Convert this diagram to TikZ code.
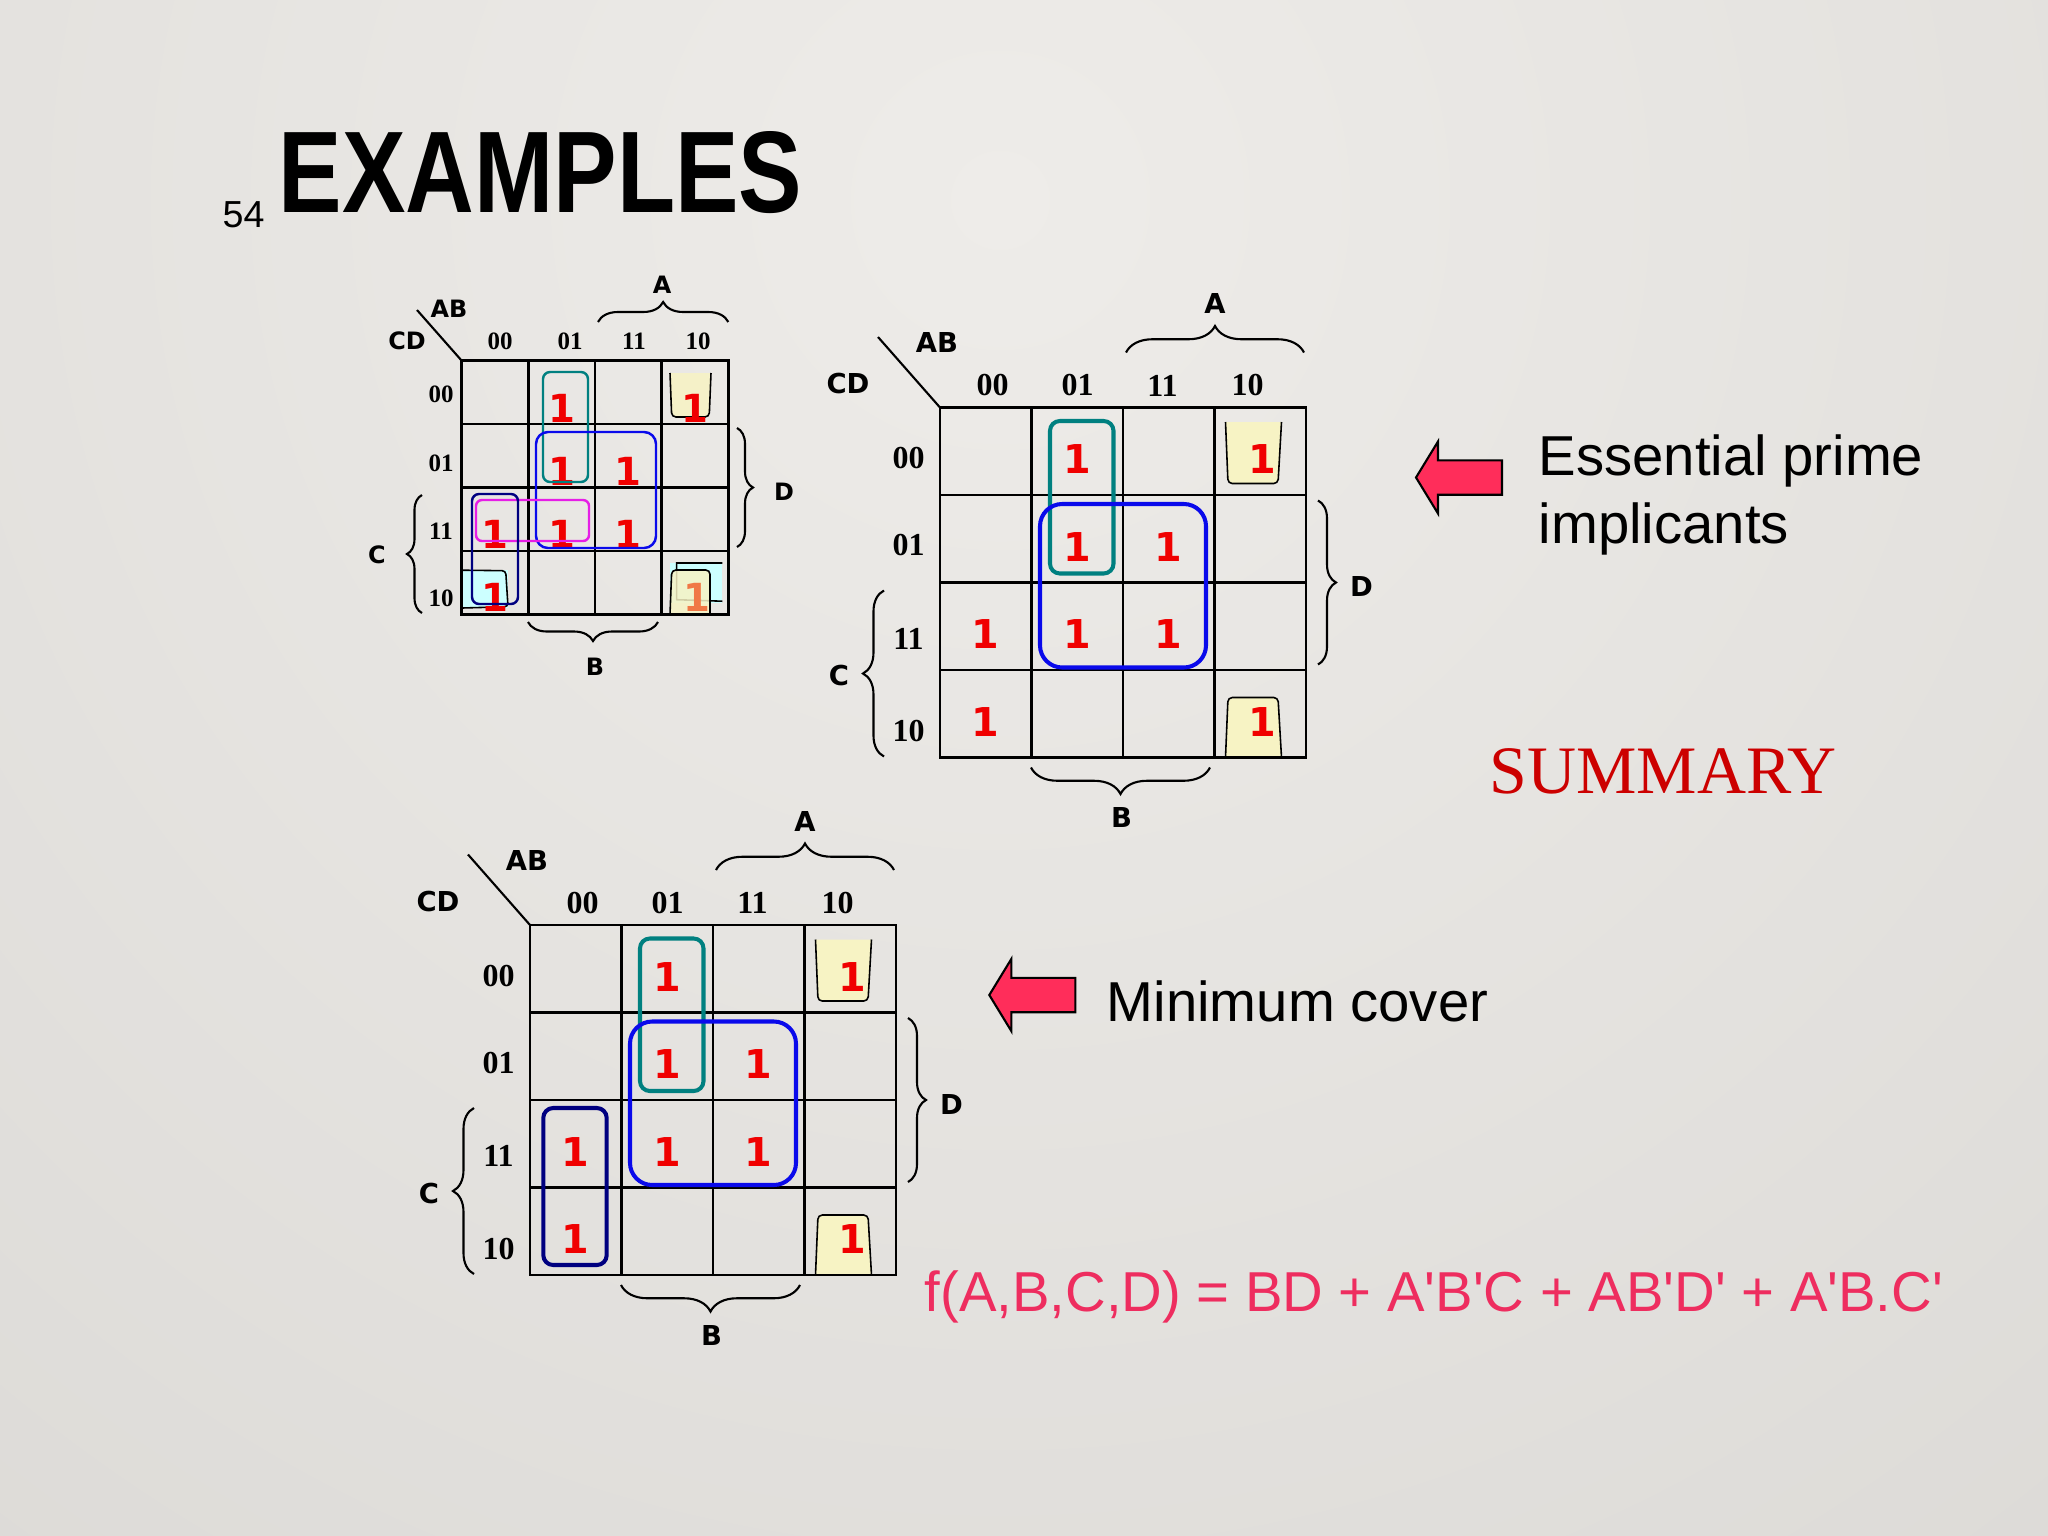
\documentclass[tikz,border=0pt]{standalone}
\usepackage{fontspec}
\setmainfont{Liberation Sans}
\newfontfamily\kfont{DejaVu Sans}
\newfontfamily\hfont{Liberation Serif}
\newfontfamily\tfont[FakeStretch=0.82]{Liberation Sans}
\newfontfamily\formfont[Ligatures=TeXOff]{Liberation Sans}
\usetikzlibrary{decorations.pathreplacing}

\definecolor{bgin}{RGB}{238,236,233}
\definecolor{bgout}{RGB}{200,198,194}
\definecolor{onered}{RGB}{240,0,0}
\definecolor{oneorange}{RGB}{240,120,70}
\definecolor{tealgrp}{RGB}{0,128,128}
\definecolor{bluegrp}{RGB}{10,10,235}
\definecolor{navygrp}{RGB}{0,0,128}
\definecolor{maggrp}{RGB}{230,30,230}
\definecolor{cupfill}{RGB}{247,243,196}
\definecolor{cyanfill}{RGB}{204,255,255}
\definecolor{arrowpink}{RGB}{255,45,90}
\definecolor{formulapink}{RGB}{238,45,95}
\definecolor{summaryred}{RGB}{204,0,0}

\tikzset{
  kgrid/.style={line width=0.7pt},
  kline/.style={line width=0.6pt},
  kbrace/.style={decorate, decoration={brace, amplitude=#1}, line width=0.6pt},
  cup/.style={fill=cupfill, draw=black, line width=0.45pt, rounded corners=1.2pt},
  patchline/.style={draw=black, line width=0.45pt},
  grpbig/.style={draw=#1, line width=1.15pt},
  grpsmall/.style={draw=#1, line width=0.7pt},
  lblbig/.style={font=\kfont\bfseries\fontsize{7.8}{9}\selectfont, inner sep=0pt},
  hdrbig/.style={font=\hfont\bfseries\fontsize{9.1}{11}\selectfont, inner sep=0pt},
  onebig/.style={font=\kfont\bfseries\fontsize{11.3}{13}\selectfont, text=onered, inner sep=0pt, anchor=base},
  lblsmall/.style={font=\kfont\bfseries\fontsize{6.8}{8}\selectfont, inner sep=0pt},
  hdrsmall/.style={font=\hfont\bfseries\fontsize{7.1}{8}\selectfont, inner sep=0pt},
  onesmall/.style={font=\kfont\bfseries\fontsize{11}{13}\selectfont, text=onered, inner sep=0pt, anchor=base},
  slidetext/.style={anchor=base west, inner sep=0pt, font=\fontsize{16}{19}\selectfont},
  arrowshape/.style={fill=arrowpink, draw=black, line width=0.6pt},
  pics/pinkarrow/.style={code={
    \draw[arrowshape] (0,0) -- (22,-36) -- (22,-17.2) -- (86,-17.2) -- (86,17.2) -- (22,17.2) -- (22,36) -- cycle;
  }},
}

% big K-map: #1 prefix, #2 top left corner, #3 extra groups
\newcommand{\kmapbig}[3]{%
\begin{scope}[shift={#2}]
  % wrap-around corner group
  \draw[cup] (285.5,14.5) -- (288,76) -- (338,76) -- (341.5,14.5);
  \draw[cup] (285.5,350) -- (288,290) -- (338,290) -- (341.5,350);
  % grid
  \foreach \i in {0,...,4} {
    \draw[kgrid] ({91.5*\i},0) -- ({91.5*\i},350);
    \draw[kgrid] (0,{87.5*\i}) -- (366,{87.5*\i});
  }
  \draw[kgrid] (0,0) rectangle (366,350);
  \foreach \c/\r in {1/0,1/1,2/1,0/2,1/2,2/2,0/3}
    \node[onebig] (#1-one\c\r) at ({45.75+91.5*\c},{66.25+87.5*\r}) {1};
  \node[onebig] (#1-one30) at (322.25,66.25) {1};
  \node[onebig] (#1-one33) at (322.25,328.75) {1};
  % groups
  \draw[grpbig=tealgrp, rounded corners=2.8pt] (110,13.5) rectangle (173.5,166);
  \draw[grpbig=bluegrp, rounded corners=6.3pt] (100,96.5) rectangle (266,260);
  #3
  % variable labels
  \coordinate (#1-corner) at (0,0);
  \coordinate (#1-slash) at (-62,-70.5);
  \draw[kline] (#1-slash) -- (#1-corner);
  \node[lblbig] (#1-AB) at (-3,-65) {AB};
  \node[lblbig] (#1-CD) at (-92,-23.5) {CD};
  \foreach \h/\x in {00/52.5, 01/137.5, 11/222.5, 10/307.5}
    \node[hdrbig] (#1-col\h) at (\x,-22) {\h};
  \foreach \h/\y in {00/51, 01/138, 11/231, 10/324}
    \node[hdrbig] (#1-row\h) at (-31.5,\y) {\h};
  \draw[kbrace=0.265cm] (186,-55) -- (364,-55);
  \node[lblbig] (#1-A) at (275,-104) {A};
  \draw[kbrace=0.265cm] (270,360) -- (91,360);
  \node[lblbig] (#1-B) at (181.5,410) {B};
  \draw[kbrace=0.21cm] (-56,349) -- (-56,183);
  \node[lblbig] (#1-C) at (-101,268.5) {C};
  \draw[kbrace=0.18cm] (378,93) -- (378,257);
  \node[lblbig] (#1-D) at (421.5,179) {D};
\end{scope}}

\begin{document}
\begin{tikzpicture}[x=0.01cm, y=-0.01cm]
% slide background
\useasboundingbox (0,0) rectangle (2048,1536);
\begin{scope}
  \clip (0,0) rectangle (2048,1536);
  \shade[inner color=bgin, outer color=bgout] (1000,200) circle (3800);
\end{scope}

% title
\node[anchor=base west, inner sep=0pt, font=\fontsize{10.7}{12}\selectfont] (slideno) at (222,227) {54};
\node[anchor=base west, inner sep=0pt, font=\tfont\bfseries\fontsize{33}{38}\selectfont] (title) at (278,212) {EXAMPLES};

% small K-map with all prime implicants
\begin{scope}[shift={(461.7,360.7)}]
  \fill[cyanfill] (0.5,209.5) rectangle (46.3,247.3);
  \draw[patchline, rounded corners=1pt] (0.5,209.5) -- (44,210) -- (46.3,246) -- (0.5,247.3);
  \fill[cyanfill] (208.3,202.3) rectangle (260.6,242.3);
  \draw[patchline] (260.6,202.3) -- (215,202.3) -- (215,239) -- (260.6,240.5);
  \draw[cup, fill opacity=0.85] (208.3,12.3) -- (210,56.3) -- (247.5,56.3) -- (249.3,12.3);
  \draw[cup, fill opacity=0.85] (208.3,253.6) -- (210,209.3) -- (248.3,209.3) -- (248.3,253.6);
  \foreach \i in {0,...,4} {
    \draw[kgrid] ({66.65*\i},0) -- ({66.65*\i},253.6);
    \draw[kgrid] (0,{63.4*\i}) -- (266.6,{63.4*\i});
  }
  \draw[kgrid] (0,0) rectangle (266.6,253.6);
  \foreach \c/\r in {1/0,3/0,1/1,2/1,0/2,1/2,2/2,0/3}
    \node[onesmall] (s-one\c\r) at ({33.3+66.65*\c},{61.4+63.1*\r}) {1};
  \node[onesmall, text=oneorange] (s-one33) at (235,250.6) {1};
  \draw[grpsmall=tealgrp, rounded corners=2pt] (81.3,11.3) rectangle (126.3,121.3);
  \draw[grpsmall=bluegrp, rounded corners=3.4pt] (74.3,71.3) rectangle (194.3,187.3);
  \draw[grpsmall=maggrp, rounded corners=1.7pt] (14.3,139.3) rectangle (127.3,180.3);
  \draw[grpsmall=navygrp, rounded corners=2pt] (10.3,133.3) rectangle (56.3,243.3);
  \coordinate (s-corner) at (0,0);
  \coordinate (s-slash) at (-44.7,-50.7);
  \draw[kline] (s-slash) -- (s-corner);
  \node[lblsmall] (s-AB) at (-12.7,-51.7) {AB};
  \node[lblsmall] (s-CD) at (-54.7,-19.7) {CD};
  \foreach \h/\x in {00/38.3, 01/108.3, 11/172.3, 10/236.3}
    \node[hdrsmall] (s-col\h) at (\x,-19.7) {\h};
  \foreach \h/\y in {00/33.3, 01/102.3, 11/170.3, 10/237.3}
    \node[hdrsmall] (s-row\h) at (-20.7,\y) {\h};
  \draw[kbrace=0.2cm] (136.3,-38.7) -- (266.6,-38.7);
  \node[lblsmall] (s-A) at (200.3,-75.7) {A};
  \draw[kbrace=0.19cm] (196.3,261.3) -- (66.3,261.3);
  \node[lblsmall] (s-B) at (133.3,306.3) {B};
  \draw[kbrace=0.15cm] (-39.7,252.3) -- (-39.7,134.3);
  \node[lblsmall] (s-C) at (-84.7,194.3) {C};
  \draw[kbrace=0.16cm] (275.3,67.3) -- (275.3,186.3);
  \node[lblsmall] (s-D) at (322.3,131.3) {D};
\end{scope}

% essential prime implicants
\kmapbig{t}{(940,407.5)}{}
\pic (arr1) at (1416,477.5) {pinkarrow};
\node[slidetext] (epi1) at (1538,475) {Essential prime};
\node[slidetext] (epi2) at (1538,543) {implicants};
\node[anchor=base west, inner sep=0pt, font=\hfont\fontsize{19.3}{22}\selectfont, text=summaryred] (summary) at (1489,793) {SUMMARY};

% minimum cover
\kmapbig{b}{(530,925)}{\draw[grpbig=navygrp, rounded corners=2.8pt] (13.3,183) rectangle (76.7,340);}
\pic (arr2) at (989.3,995) {pinkarrow};
\node[slidetext] (mincover) at (1106,1021) {Minimum cover};
\node[slidetext, font=\formfont\fontsize{16}{19}\selectfont, text=formulapink] (formula) at (924,1311) {f(A,B,C,D) = BD + A'B'C + AB'D' + A'B.C'};
\end{tikzpicture}
\end{document}
